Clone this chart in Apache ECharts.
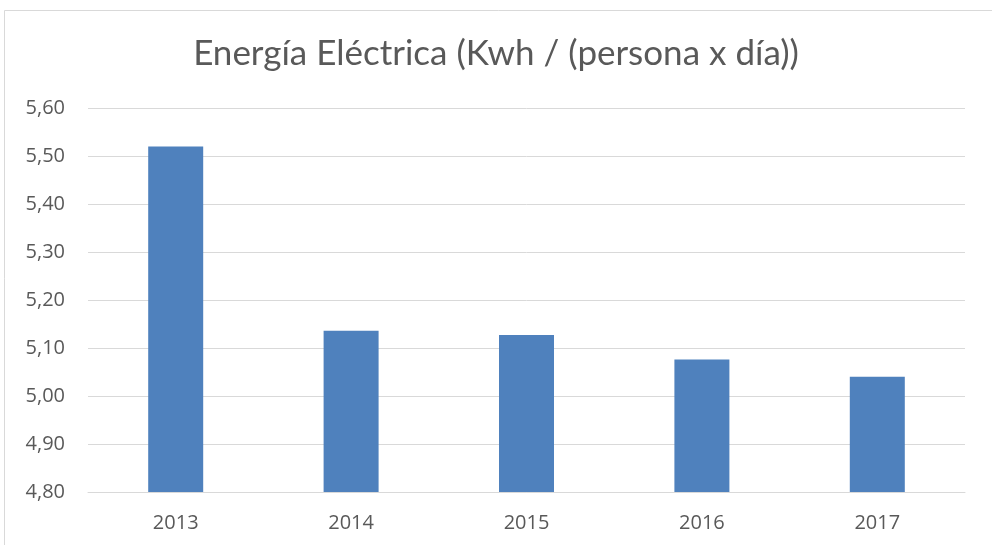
<!DOCTYPE html>
<html>
<head>
<meta charset="utf-8">
<script src="https://cdn.jsdelivr.net/npm/echarts@6/dist/echarts.min.js"></script>
<style>
html,body{margin:0;padding:0;background:#fff;}
#chart{width:992px;height:545px;}
</style>
</head>
<body>
<div id="chart"></div>
<script>
var titleText = 'Energía Eléctrica (Kwh / (persona x día))';
var categories = ['2013', '2014', '2015', '2016', '2017'];
var values = [5.52, 5.136, 5.127, 5.076, 5.04];
var yMin = 4.8, yMax = 5.6, yStep = 0.1;

var chart = echarts.init(document.getElementById('chart'), null, {renderer: 'canvas'});
chart.setOption({
  backgroundColor: '#ffffff',
  animation: false,
  title: {
    text: titleText,
    left: 'center',
    top: 31,
    textStyle: {fontFamily: 'Lato', fontSize: 35, fontWeight: 'normal', color: '#595959'}
  },
  graphic: [{
    type: 'rect',
    shape: {x: 4.5, y: 10.5, width: 1100, height: 700},
    style: {fill: 'none', stroke: '#d9d9d9', lineWidth: 1},
    silent: true
  }],
  grid: {left: 88, right: 27, top: 108, bottom: 53, containLabel: false},
  xAxis: {
    type: 'category',
    data: categories,
    axisLine: {show: true, lineStyle: {color: '#d9d9d9', width: 1}},
    axisTick: {show: false},
    axisLabel: {margin: 21, fontFamily: 'Open Sans', fontSize: 20, color: '#595959'}
  },
  yAxis: {
    type: 'value',
    min: yMin, max: yMax, interval: yStep,
    axisLine: {show: false},
    axisTick: {show: false},
    splitLine: {show: true, lineStyle: {color: '#d9d9d9', width: 1}},
    axisLabel: {
      margin: 23, fontFamily: 'Open Sans', fontSize: 20, color: '#595959',
      formatter: function (v) { return v.toFixed(2).replace('.', ','); }
    }
  },
  series: [{
    type: 'bar',
    data: values,
    barWidth: 55,
    itemStyle: {color: '#4f81bd'}
  }]
});
</script>
</body>
</html>
